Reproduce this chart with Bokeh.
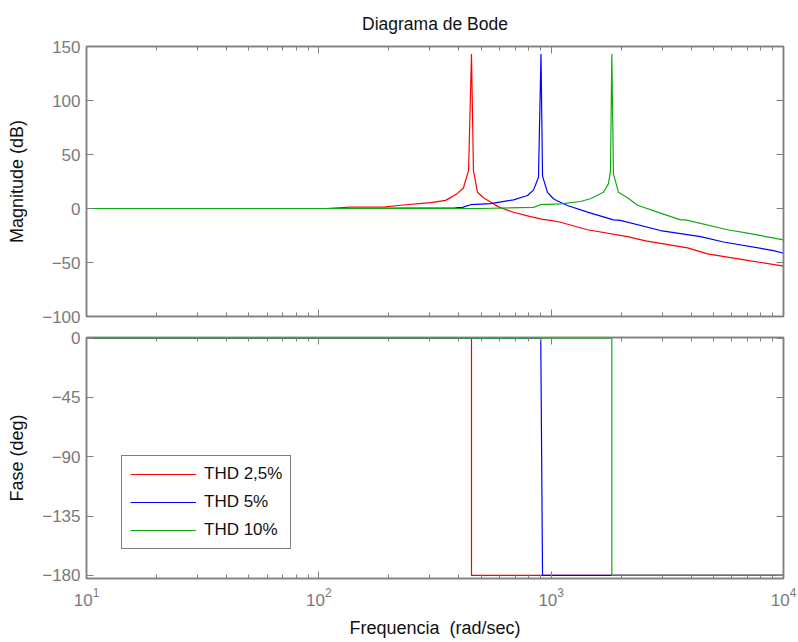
from bokeh.plotting import figure
from bokeh.layouts import column
from bokeh.models import (Range1d, LinearAxis, LogAxis, FixedTicker, LogTicker,
                          CustomJSTickFormatter, Legend, LegendItem)
from bokeh.embed import file_html
from bokeh.resources import INLINE

# ---------------- data ----------------
series_names = ["THD 2,5%", "THD 5%", "THD 10%"]
series_colors = ["#ff0000", "#0000ff", "#12a812"]

red_freq = [10, 107, 137, 194, 225, 303, 351, 376, 395, 419, 441, 454, 463, 482, 511,
            548, 593, 688, 815, 918, 993, 1097, 1433, 2131, 2550, 3864, 4711, 6998, 10000]
red_mag = [0, 0, 1.2, 1.5, 3.0, 5.5, 7.5, 11, 14, 19, 35, 143, 35, 15, 10,
           6, 1.5, -3.5, -7.5, -10, -11, -12.7, -19.7, -26, -30, -36.4, -42, -48, -53.4]

blue_freq = [10, 137, 225, 387, 415, 450, 548, 688, 791, 839, 882, 904, 918, 964, 1023,
             1065, 1175, 1433, 1854, 1987, 2955, 4395, 5519, 9061, 10000]
blue_mag = [0, 0, 0.3, 0.5, 1, 3.5, 4.5, 8, 12, 17, 29, 143, 30, 15, 9,
            7, 2.8, -3.4, -10.5, -11, -20.4, -26, -31, -39, -41.4]

green_freq = [10, 497, 839, 899, 1097, 1337, 1476, 1679, 1765, 1800, 1824, 1854, 1949,
              2131, 2355, 2955, 3605, 3788, 5743, 6998, 10000]
green_mag = [0, 0, 1, 3.5, 4.3, 6.5, 9, 15, 23, 35, 143, 32, 15,
             10, 3, -4.3, -10.5, -10.5, -19.7, -22.8, -29]

red_phase_freq = [10, 454, 454, 10000]
red_phase = [0, 0, -180, -180]
blue_phase_freq = [10, 902, 918, 10000]
blue_phase = [0, 0, -180, -180]
green_phase_freq = [10, 1824, 1824, 10000]
green_phase = [0, 0, -180, -180]

mag_ticks = [-100, -50, 0, 50, 100, 150]
phase_ticks = [-180, -135, -90, -45, 0]

title_text = "Diagrama de Bode"
mag_label = "Magnitude (dB)"
phase_label = "Fase (deg)"
freq_label = "Frequencia\u00a0 (rad/sec)"

# ---------------- style ----------------
FONT = "Liberation Sans"
GREY = "#7f7f7f"
LBL = "#7a7a7a"

xr = Range1d(10, 10000)


def style_axis(ax, show_labels):
    ax.axis_line_color = GREY
    ax.axis_line_width = 1.5
    ax.major_tick_line_color = GREY
    ax.minor_tick_line_color = GREY
    ax.major_tick_in = 7
    ax.major_tick_out = 0
    ax.minor_tick_in = 4
    ax.minor_tick_out = 0
    ax.major_label_text_font = FONT
    ax.major_label_text_color = LBL
    ax.axis_label_text_font = FONT
    ax.axis_label_text_font_style = "normal"
    ax.axis_label_text_color = "#111111"
    ax.axis_label_text_font_size = "18px"
    if show_labels:
        ax.major_label_text_font_size = "17px"
        ax.major_label_standoff = 6
    else:
        ax.formatter = CustomJSTickFormatter(code="return ''")
        ax.major_label_text_font_size = "1px"
        ax.major_label_standoff = 0


def make_fig(height, yr, top, bottom):
    p = figure(width=798, height=height, x_axis_type="log", x_range=xr, y_range=yr,
               output_backend="svg", toolbar_location=None,
               min_border_left=86, min_border_right=15,
               min_border_top=top, min_border_bottom=bottom)
    p.grid.visible = False
    p.outline_line_color = GREY
    p.outline_line_width = 1.5
    p.background_fill_color = "white"
    p.border_fill_color = "white"
    p.xaxis.ticker = LogTicker(num_minor_ticks=10)
    return p


# ---------- top: magnitude ----------
p1 = make_fig(327, Range1d(-100, 150), 46, 11)

p1.yaxis.ticker = FixedTicker(ticks=mag_ticks)
p1.yaxis.axis_label = mag_label
p1.yaxis.axis_label_standoff = 12
style_axis(p1.yaxis[0], True)
p1.yaxis.minor_tick_line_color = None
style_axis(p1.xaxis[0], False)

ax_r = LinearAxis(ticker=FixedTicker(ticks=mag_ticks))
style_axis(ax_r, False)
ax_r.minor_tick_line_color = None
p1.add_layout(ax_r, "right")

# top axis of the magnitude plot carries the chart title
ax_t = LogAxis(ticker=LogTicker(num_minor_ticks=10))
style_axis(ax_t, False)
ax_t.axis_label = title_text
ax_t.axis_label_text_font_size = "17.5px"
ax_t.axis_label_standoff = 13
p1.add_layout(ax_t, "above")

for f, m, c in zip([red_freq, blue_freq, green_freq], [red_mag, blue_mag, green_mag], series_colors):
    p1.line(f, m, line_color=c, line_width=1.2)

# ---------- bottom: phase ----------
p2 = make_fig(315, Range1d(-182.3, 0.4), 10, 64)
p2.yaxis.ticker = FixedTicker(ticks=phase_ticks)
p2.yaxis.axis_label = phase_label
p2.yaxis.axis_label_standoff = 12
style_axis(p2.yaxis[0], True)
p2.yaxis.minor_tick_line_color = None
p2.xaxis.axis_label = freq_label
p2.xaxis.axis_label_standoff = 9
style_axis(p2.xaxis[0], True)
p2.xaxis.major_label_standoff = 9

ax_r2 = LinearAxis(ticker=FixedTicker(ticks=phase_ticks))
style_axis(ax_r2, False)
ax_r2.minor_tick_line_color = None
p2.add_layout(ax_r2, "right")
ax_t2 = LogAxis(ticker=LogTicker(num_minor_ticks=10))
style_axis(ax_t2, False)
p2.add_layout(ax_t2, "above")

items = []
for f, ph, c, n in zip([red_phase_freq, blue_phase_freq, green_phase_freq],
                       [red_phase, blue_phase, green_phase], series_colors, series_names):
    r = p2.line(f, ph, line_color=c, line_width=1.2)
    items.append(LegendItem(label=n, renderers=[r]))

leg = Legend(items=items, location=(35, 29))
leg.border_line_color = "black"
leg.border_line_width = 1.2
leg.background_fill_color = "white"
leg.background_fill_alpha = 1
leg.label_text_font = FONT
leg.label_text_font_size = "17px"
leg.label_text_color = "#111111"
leg.glyph_width = 66
leg.glyph_height = 18
leg.label_height = 18
leg.label_standoff = 8
leg.spacing = 8
leg.padding = 8
leg.margin = 0
p2.add_layout(leg, "center")

layout = column(p1, p2, spacing=0)
open("out.html", "w").write(file_html(layout, INLINE))
